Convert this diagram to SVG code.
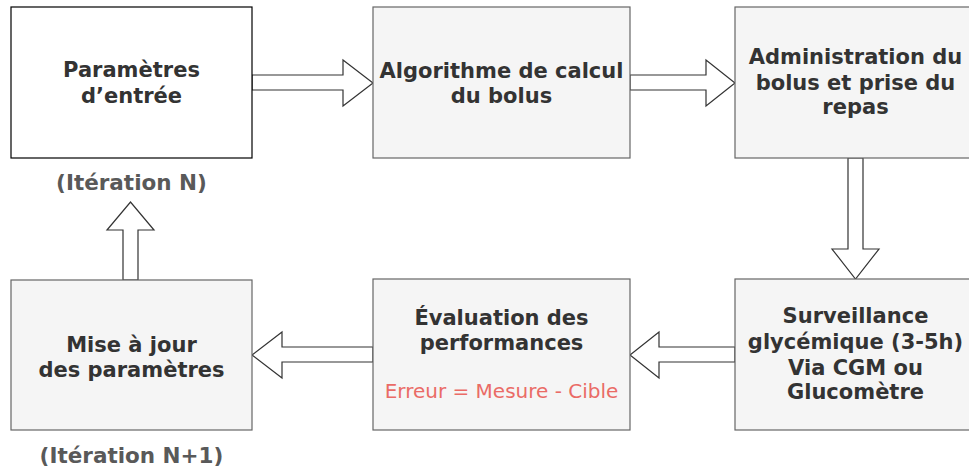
<svg xmlns="http://www.w3.org/2000/svg" width="969" height="471" viewBox="0 0 969 471">
  <style>
    .box { fill: #f5f5f5; stroke: #666666; stroke-width: 1.2; }
    .box-main { fill: #ffffff; stroke: #000000; stroke-width: 1.2; }
    .label { font-family: "DejaVu Sans", Verdana, sans-serif; font-weight: bold; font-size: 21px; fill: #333333; text-anchor: middle; }
    .note { font-family: "DejaVu Sans", Verdana, sans-serif; font-weight: bold; font-size: 21.5px; fill: #595959; text-anchor: middle; }
    .formula { font-family: "DejaVu Sans", Verdana, sans-serif; font-size: 20px; fill: #ea6b66; text-anchor: middle; }
    .arrow { fill: #ffffff; stroke: #333333; stroke-width: 1.2; stroke-linejoin: miter; }
  </style>

  <!-- block arrows between the steps -->
  <g id="connectors">
    <!-- inputs -> algorithm -->
    <polygon class="arrow" points="252,75 343,75 343,60 373,83 343,106 343,90 252,90"/>
    <!-- algorithm -> administration -->
    <polygon class="arrow" points="630,75 706,75 706,60 735,83 706,106 706,90 630,90"/>
    <!-- administration -> monitoring -->
    <polygon class="arrow" points="848,158 848,249 832,249 855.5,279 879,249 863,249 863,158"/>
    <!-- monitoring -> evaluation -->
    <polygon class="arrow" points="735,347 659,347 659,332 630,355 659,378 659,362 735,362"/>
    <!-- evaluation -> update -->
    <polygon class="arrow" points="373,347 282,347 282,332 252,355 282,378 282,362 373,362"/>
    <!-- update -> inputs -->
    <polygon class="arrow" points="123,280 123,230 107,230 130.5,202 154,230 138,230 138,280"/>
  </g>

  <g id="node-inputs">
    <rect class="box-main" x="11" y="7" width="241" height="151"/>
    <text class="label" x="131.5" y="77">Paramètres</text>
    <text class="label" x="131.5" y="103">d’entrée</text>
  </g>
  <text class="note" x="131.5" y="190">(Itération N)</text>

  <g id="node-algorithm">
    <rect class="box" x="373" y="7" width="257" height="151"/>
    <text class="label" x="501.5" y="78">Algorithme de calcul</text>
    <text class="label" x="501.5" y="103">du bolus</text>
  </g>

  <g id="node-administration">
    <rect class="box" x="735" y="7" width="241" height="151"/>
    <text class="label" x="855.5" y="64">Administration du</text>
    <text class="label" x="855.5" y="89.5">bolus et prise du</text>
    <text class="label" x="855.5" y="114">repas</text>
  </g>

  <g id="node-monitoring">
    <rect class="box" x="735" y="279" width="241" height="151"/>
    <text class="label" x="855.5" y="323">Surveillance</text>
    <text class="label" x="855.5" y="349">glycémique (3-5h)</text>
    <text class="label" x="855.5" y="374.5">Via CGM ou</text>
    <text class="label" x="855.5" y="399">Glucomètre</text>
  </g>

  <g id="node-evaluation">
    <rect class="box" x="373" y="279" width="257" height="151"/>
    <text class="label" x="501.5" y="325">Évaluation des</text>
    <text class="label" x="501.5" y="350">performances</text>
    <text class="formula" x="501.5" y="398">Erreur = Mesure - Cible</text>
  </g>

  <g id="node-update">
    <rect class="box" x="11" y="280" width="241" height="150"/>
    <text class="label" x="131.5" y="352">Mise à jour</text>
    <text class="label" x="131.5" y="377">des paramètres</text>
  </g>
  <text class="note" x="131.5" y="463">(Itération N+1)</text>
</svg>
